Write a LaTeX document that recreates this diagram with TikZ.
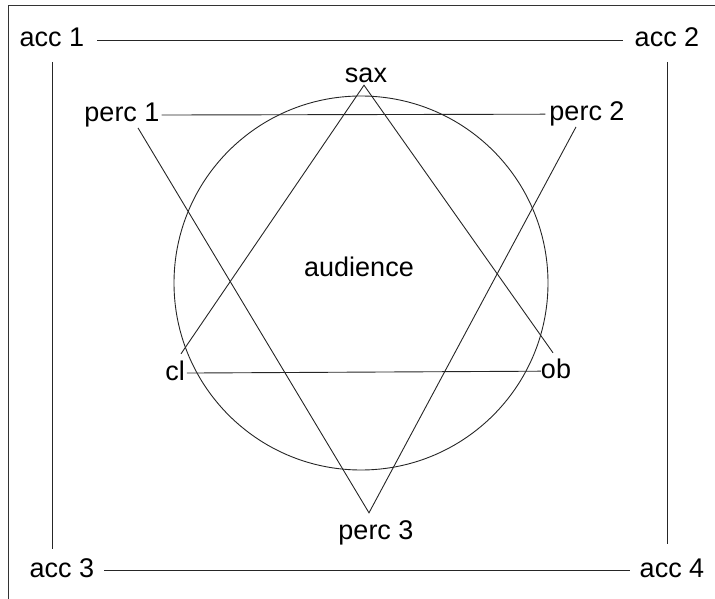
\documentclass[tikz,border=0pt]{standalone}
\usepackage{fontspec}
\setmainfont{Liberation Sans}
\begin{document}
\begin{tikzpicture}[x=1pt, y=-1pt,
  player/.style={font=\fontsize{27}{32}\selectfont, inner sep=0pt,
    text height=19.5pt, text depth=5.7pt, anchor=base},
  link/.style={line width=0.9pt, black!85}]
\useasboundingbox (0,0) rectangle (715,599);
% frame (top and left edge only)
\draw[line width=0.9pt, black!80] (8,599) -- (8,5) -- (715,5);
% audience circle
\node[circle, draw, link, minimum size=374pt, inner sep=0pt] (hall) at (361,283) {};
\node[player] (aud) at (359,276) {audience};
% players, placed at their baselines
\node[player] (acc1) at (52,47) {acc 1};
\node[player] (acc2) at (667,47) {acc 2};
\node[player] (acc3) at (62,577) {acc 3};
\node[player] (acc4) at (672,577) {acc 4};
\node[player] (sax) at (366,83) {sax};
\node[player] (perc1) at (122,122) {perc 1};
\node[player] (perc2) at (587,121) {perc 2};
\node[player] (cl) at (175,380) {cl};
\node[player] (ob) at (556,378) {ob};
\node[player] (perc3) at (376,539) {perc 3};
% outer square of accordions
\draw[link, shorten <=13pt, shorten >=12pt] (acc1) -- (acc2);
\draw[link, shorten <=10pt, shorten >=10pt] (acc3) -- (acc4);
\draw[link, shorten <=9pt, shorten >=8.5pt] (acc1.south) -- (acc1.south |- acc3.north);
\draw[link, shorten <=9pt, shorten >=13.5pt] (acc2.south) -- (acc2.south |- acc4.north);
% percussion triangle
\draw[link, shorten <=2pt, shorten >=4pt] (perc1) -- (perc2);
\draw[link] ([xshift=16pt]perc1.south) -- ([xshift=-7pt, yshift=6.5pt]perc3.north)
  -- ([xshift=-11pt]perc2.south);
% winds triangle
\draw[link, shorten <=2pt, shorten >=0pt] (cl) -- (ob);
\draw[link] ([xshift=6pt, yshift=6.5pt]cl.north) -- ([xshift=-2pt, yshift=3.7pt]sax.south)
  -- ([xshift=-3pt, yshift=5.5pt]ob.north);
\end{tikzpicture}
\end{document}
